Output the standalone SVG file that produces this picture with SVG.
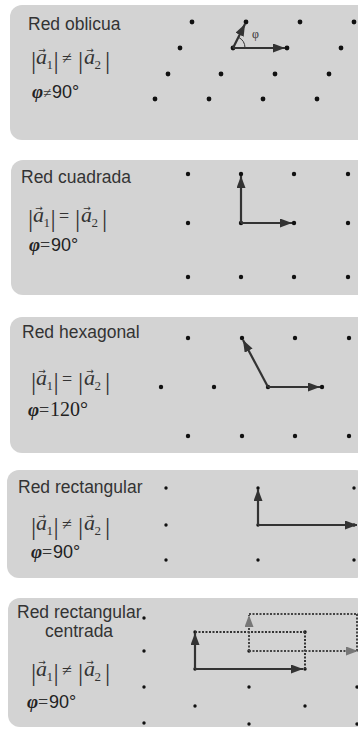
<svg xmlns="http://www.w3.org/2000/svg" width="358" height="729" viewBox="0 0 358 729">
<style>
.bg{fill:#d3d3d3}
.lbl{font-family:"Liberation Sans",Arial,sans-serif;font-size:17.5px;fill:#333}
.bar{font-family:"Liberation Serif","Times New Roman",serif;font-size:26px;fill:#333;text-anchor:middle}
.av{font-family:"Liberation Serif","Times New Roman",serif;font-size:22px;font-style:italic;fill:#333}
.sub{font-family:"Liberation Serif","Times New Roman",serif;font-size:13px;fill:#333}
.ar{font-family:"DejaVu Sans",sans-serif;font-size:9px;fill:#333;text-anchor:middle}
.rel{font-family:"Liberation Serif","Times New Roman",serif;font-size:18px;fill:#333;text-anchor:middle}
.phi{font-family:"Liberation Serif","Times New Roman",serif;font-size:19px;font-style:italic;font-weight:bold;fill:#222}
.deg{font-family:"Liberation Sans",Arial,sans-serif;font-size:18px;fill:#222}
.degs{font-family:"Liberation Serif","Times New Roman",serif;font-size:20px;fill:#222}
.d1{fill:#111}
.vec{stroke:#333;stroke-width:2.2;fill:none}
.dot{stroke:#333;stroke-width:2;fill:none;stroke-dasharray:2 1.5}
.gv{stroke:#444;stroke-width:2;fill:none;stroke-dasharray:2 1.5}
</style>
<defs>
<marker id="ah" markerUnits="userSpaceOnUse" markerWidth="13" markerHeight="10" refX="12" refY="4.5" orient="auto"><path d="M0,0 L12,4.5 L0,9 z" fill="#333"/></marker>
<marker id="ahg" markerUnits="userSpaceOnUse" markerWidth="13" markerHeight="10" refX="12" refY="4.5" orient="auto"><path d="M0,0 L12,4.5 L0,9 z" fill="#777"/></marker>
</defs>

<!-- Panel 1 -->
<g id="oblicua">
<rect class="bg" x="10" y="5" width="360" height="135" rx="12"/>
<text class="lbl" x="28" y="30">Red oblicua</text>
<g transform="translate(32,64)">
<text class="bar" x="1.5" y="5">|</text><text class="av" x="4" y="0">a</text><text class="ar" x="10" y="-11">→</text><text class="sub" x="14.5" y="5">1</text><text class="bar" x="24" y="5">|</text>
<text class="rel" x="35" y="0">≠</text>
<text class="bar" x="48.5" y="5">|</text><text class="av" x="52" y="0">a</text><text class="ar" x="58" y="-11">→</text><text class="sub" x="62.5" y="5">2</text><text class="bar" x="75.5" y="5">|</text>
</g>
<text class="phi" x="32" y="98">φ</text><text class="rel" x="47" y="98" style="font-size:15px">≠</text><text class="deg" x="52" y="98">90°</text>
<g class="d1">
<circle cx="192" cy="22" r="2.4"/><circle cx="246" cy="22" r="2.4"/><circle cx="300" cy="22" r="2.4"/><circle cx="354" cy="22" r="2.4"/>
<circle cx="180" cy="48" r="2.4"/><circle cx="233" cy="48" r="2.4"/><circle cx="287" cy="48" r="2.4"/><circle cx="341" cy="48" r="2.4"/>
<circle cx="168" cy="74" r="2.4"/><circle cx="221" cy="74" r="2.4"/><circle cx="275" cy="74" r="2.4"/><circle cx="329" cy="74" r="2.4"/>
<circle cx="155" cy="99" r="2.4"/><circle cx="209" cy="99" r="2.4"/><circle cx="263" cy="99" r="2.4"/><circle cx="317" cy="99" r="2.4"/>
</g>
<path d="M245,48 A12,12 0 0 0 238.5,37.3" stroke="#333" stroke-width="1" fill="none"/>
<text x="252" y="38" style="font-family:'Liberation Serif',serif;font-size:12px;fill:#333">φ</text>
</g>

<!-- Panel 2 -->
<g id="cuadrada">
<rect class="bg" x="11" y="160" width="360" height="135" rx="12"/>
<text class="lbl" x="21" y="183">Red cuadrada</text>
<g transform="translate(29,222)">
<text class="bar" x="1.5" y="5">|</text><text class="av" x="4" y="0">a</text><text class="ar" x="10" y="-11">→</text><text class="sub" x="14.5" y="5">1</text><text class="bar" x="24" y="5">|</text>
<text class="rel" x="35" y="0">=</text>
<text class="bar" x="48.5" y="5">|</text><text class="av" x="52" y="0">a</text><text class="ar" x="58" y="-11">→</text><text class="sub" x="62.5" y="5">2</text><text class="bar" x="75.5" y="5">|</text>
</g>
<text class="phi" x="29" y="251">φ</text><text class="rel" x="45" y="251">=</text><text class="deg" x="51" y="251">90°</text>
<g class="d1">
<circle cx="188" cy="174" r="2.2"/><circle cx="241" cy="174" r="2.2"/><circle cx="294" cy="174" r="2.2"/><circle cx="348" cy="174" r="2.2"/>
<circle cx="188" cy="223" r="2.2"/><circle cx="241" cy="223" r="2.2"/><circle cx="294" cy="223" r="2.2"/><circle cx="348" cy="223" r="2.2"/>
<circle cx="188" cy="277" r="2.2"/><circle cx="241" cy="277" r="2.2"/><circle cx="294" cy="277" r="2.2"/><circle cx="348" cy="277" r="2.2"/>
</g>
</g>

<!-- Panel 3 -->
<g id="hexagonal">
<rect class="bg" x="10" y="317" width="360" height="136" rx="12"/>
<text class="lbl" x="22" y="338">Red hexagonal</text>
<g transform="translate(32,385)">
<text class="bar" x="1.5" y="5">|</text><text class="av" x="4" y="0">a</text><text class="ar" x="10" y="-11">→</text><text class="sub" x="14.5" y="5">1</text><text class="bar" x="24" y="5">|</text>
<text class="rel" x="35" y="0">=</text>
<text class="bar" x="48.5" y="5">|</text><text class="av" x="52" y="0">a</text><text class="ar" x="58" y="-11">→</text><text class="sub" x="62.5" y="5">2</text><text class="bar" x="75.5" y="5">|</text>
</g>
<text class="phi" x="28" y="416">φ</text><text class="rel" x="44" y="416">=</text><text class="degs" x="50" y="416">120°</text>
<g class="d1">
<circle cx="188" cy="338" r="2.2"/><circle cx="242" cy="338" r="2.2"/><circle cx="295" cy="338" r="2.2"/><circle cx="349" cy="338" r="2.2"/>
<circle cx="161" cy="387" r="2.2"/><circle cx="214" cy="387" r="2.2"/><circle cx="268" cy="387" r="2.2"/><circle cx="322" cy="387" r="2.2"/>
<circle cx="188" cy="436" r="2.2"/><circle cx="242" cy="436" r="2.2"/><circle cx="295" cy="436" r="2.2"/><circle cx="349" cy="436" r="2.2"/>
</g>
</g>

<!-- Panel 4 -->
<g id="rectangular">
<rect class="bg" x="7" y="470" width="360" height="108" rx="12"/>
<text class="lbl" x="18" y="493">Red rectangular</text>
<g transform="translate(32,530)">
<text class="bar" x="1.5" y="5">|</text><text class="av" x="4" y="0">a</text><text class="ar" x="10" y="-11">→</text><text class="sub" x="14.5" y="5">1</text><text class="bar" x="24" y="5">|</text>
<text class="rel" x="35" y="0">≠</text>
<text class="bar" x="48.5" y="5">|</text><text class="av" x="52" y="0">a</text><text class="ar" x="58" y="-11">→</text><text class="sub" x="62.5" y="5">2</text><text class="bar" x="75.5" y="5">|</text>
</g>
<text class="phi" x="31" y="558">φ</text><text class="rel" x="47" y="558">=</text><text class="deg" x="53" y="558">90°</text>
<g class="d1">
<circle cx="166" cy="488" r="1.7"/><circle cx="258" cy="488" r="1.7"/><circle cx="354" cy="488" r="1.7"/>
<circle cx="166" cy="525" r="1.7"/><circle cx="258" cy="525" r="1.7"/><circle cx="354" cy="525" r="1.7"/>
<circle cx="166" cy="560" r="1.7"/><circle cx="258" cy="560" r="1.7"/><circle cx="354" cy="560" r="1.7"/>
</g>
</g>

<!-- Panel 5 -->
<g id="centrada">
<rect class="bg" x="8" y="598" width="360" height="129" rx="12"/>
<text class="lbl" x="17" y="618">Red rectangular</text>
<text class="lbl" x="45" y="637">centrada</text>
<g transform="translate(32,676)">
<text class="bar" x="1.5" y="5">|</text><text class="av" x="4" y="0">a</text><text class="ar" x="10" y="-11">→</text><text class="sub" x="14.5" y="5">1</text><text class="bar" x="24" y="5">|</text>
<text class="rel" x="35" y="0">≠</text>
<text class="bar" x="48.5" y="5">|</text><text class="av" x="52" y="0">a</text><text class="ar" x="58" y="-11">→</text><text class="sub" x="62.5" y="5">2</text><text class="bar" x="75.5" y="5">|</text>
</g>
<text class="phi" x="27" y="708">φ</text><text class="rel" x="43" y="708">=</text><text class="deg" x="49" y="708">90°</text>
<g class="d1">
<circle cx="144" cy="618" r="1.7"/><circle cx="144" cy="651" r="1.7"/><circle cx="144" cy="687" r="1.7"/><circle cx="144" cy="723" r="1.7"/>
<circle cx="195" cy="632" r="1.7"/><circle cx="195" cy="669" r="1.7"/><circle cx="195" cy="706" r="1.7"/>
<circle cx="249" cy="651" r="1.7"/><circle cx="249" cy="687" r="1.7"/><circle cx="249" cy="724" r="1.7"/>
<circle cx="305" cy="632" r="1.7"/><circle cx="305" cy="669" r="1.7"/><circle cx="305" cy="706" r="1.7"/>
<circle cx="357" cy="687" r="1.7"/><circle cx="357" cy="724" r="1.7"/>
</g>
</g>

<!-- Connectors -->
<g id="connectors">
<line class="vec" x1="233" y1="48" x2="285" y2="48" marker-end="url(#ah)"/>
<line class="vec" x1="233" y1="48" x2="245" y2="24" marker-end="url(#ah)"/>
<line class="vec" x1="241" y1="223" x2="292" y2="223" marker-end="url(#ah)"/>
<line class="vec" x1="241" y1="223" x2="241" y2="176" marker-end="url(#ah)"/>
<line class="vec" x1="268" y1="387" x2="320" y2="387" marker-end="url(#ah)"/>
<line class="vec" x1="268" y1="387" x2="243" y2="340" marker-end="url(#ah)"/>
<line class="vec" x1="258" y1="525" x2="357" y2="525" marker-end="url(#ah)"/>
<line class="vec" x1="258" y1="525" x2="258" y2="489" marker-end="url(#ah)"/>
<line class="dot" x1="195" y1="632" x2="305" y2="632"/>
<line class="dot" x1="305" y1="632" x2="305" y2="669"/>
<line class="gv" x1="249" y1="614" x2="360" y2="614"/>
<line class="gv" x1="357" y1="614" x2="357" y2="651"/>
<line class="gv" x1="249" y1="651" x2="249" y2="615" marker-end="url(#ahg)"/>
<line class="gv" x1="249" y1="651" x2="358" y2="651" marker-end="url(#ahg)"/>
<line class="vec" x1="195" y1="669" x2="303" y2="669" marker-end="url(#ah)"/>
<line class="vec" x1="195" y1="669" x2="195" y2="633" marker-end="url(#ah)"/>
</g>
</svg>
